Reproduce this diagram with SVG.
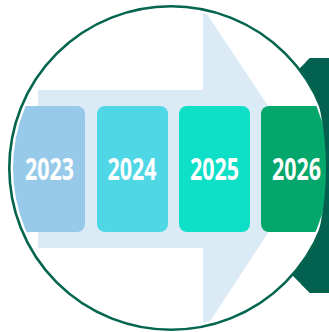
<svg xmlns="http://www.w3.org/2000/svg" width="329" height="332" viewBox="0 0 329 332">
  <style>
    .box-label { font-family: "Open Sans", "Liberation Sans", sans-serif; font-weight: 700; font-size: 30px; fill: #ffffff; text-anchor: middle; }
    .tab { fill: #03614F; }
  </style>
  <defs>
    <clipPath id="inner">
      <circle cx="171" cy="168" r="158"/>
    </clipPath>
    <mask id="edge">
      <rect width="329" height="332" fill="#ffffff"/>
      <circle cx="43" cy="168" r="283" fill="#000000"/>
    </mask>
    <polygon id="tab-shape" points="310,58 340,58 340,293 310,293 280,263 280,88"/>
  </defs>
  <rect width="329" height="332" fill="#ffffff"/>
  <g id="dark-tab">
    <use href="#tab-shape" class="tab"/>
  </g>
  <g id="ring">
    <circle cx="171" cy="168" r="161.7" fill="#ffffff" stroke="#04654F" stroke-width="2.6"/>
  </g>
  <g clip-path="url(#inner)">
    <g id="connectors">
      <polygon points="38,90 203,90 203,8 310,169 203,332 203,248 38,248" fill="#DBEBF6"/>
    </g>
    <rect id="box-2023" x="0" y="106" width="85" height="126" rx="8" fill="#97CAE8"/>
    <rect id="box-2024" x="97" y="106" width="71" height="126" rx="8" fill="#4FD7E6"/>
    <rect id="box-2025" x="179" y="106" width="71" height="126" rx="8" fill="#0EDFC7"/>
    <rect id="box-2026" x="261" y="106" width="80" height="126" rx="8" fill="#03A66B"/>
  </g>
  <g id="dark-tab-edge" mask="url(#edge)">
    <use href="#tab-shape" class="tab"/>
  </g>
  <g id="node-2023">
    <text class="box-label" x="49.5" y="180" textLength="49" lengthAdjust="spacingAndGlyphs">2023</text>
  </g>
  <g id="node-2024">
    <text class="box-label" x="132" y="180" textLength="49" lengthAdjust="spacingAndGlyphs">2024</text>
  </g>
  <g id="node-2025">
    <text class="box-label" x="214.5" y="180" textLength="49" lengthAdjust="spacingAndGlyphs">2025</text>
  </g>
  <g id="node-2026">
    <text class="box-label" x="296.5" y="180" textLength="49" lengthAdjust="spacingAndGlyphs">2026</text>
  </g>
</svg>
